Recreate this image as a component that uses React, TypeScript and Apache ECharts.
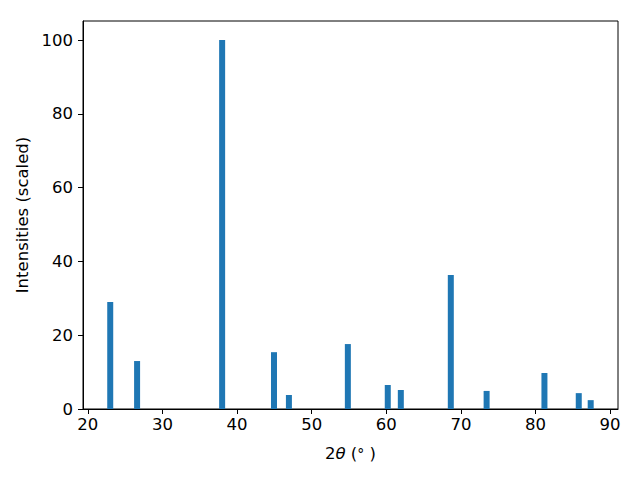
import React, { useEffect, useRef } from "react";
import * as echarts from "echarts";

const twoTheta = [23.0, 26.6, 38.0, 44.95, 46.95, 54.85, 60.2, 61.95, 68.65, 73.45, 81.2, 85.8, 87.4];
const intensities = [29.0, 13.0, 100.0, 15.4, 3.8, 17.6, 6.5, 5.15, 36.3, 4.9, 9.75, 4.3, 2.4];
const xTicks = [20, 30, 40, 50, 60, 70, 80, 90];
const yTicks = [0, 20, 40, 60, 80, 100];

const FONT = "DejaVu Sans";
const FS = 16.5;

export default function App() {
  const ref = useRef<HTMLDivElement>(null);
  useEffect(() => {
    if (!ref.current) return;
    const chart = echarts.init(ref.current, null, { renderer: "svg" });
    chart.setOption({
      animation: false,
      backgroundColor: "#ffffff",
      grid: {
        left: 83,
        right: 22,
        top: 21,
        bottom: 71,
        show: true,
        borderColor: "#000",
        borderWidth: 1,
        backgroundColor: "transparent",
      },
      xAxis: {
        type: "value",
        min: 19.35,
        max: 91.06,
        name: "{a|2}{b|θ}{a| (}{c|°}{a| )}",
        nameLocation: "middle",
        nameGap: 36,
        nameTextStyle: {
          fontFamily: FONT,
          fontSize: FS,
          color: "#000",
          rich: {
            a: { fontFamily: FONT, fontSize: FS, color: "#000" },
            b: { fontFamily: FONT, fontSize: FS, color: "#000", fontStyle: "italic" },
            c: { fontFamily: FONT, fontSize: 14, color: "#000" },
          },
        },
        axisLine: { show: true, onZero: false, lineStyle: { color: "#000", width: 1 } },
        axisTick: { show: true, length: 5, lineStyle: { color: "#000" }, customValues: xTicks },
        axisLabel: {
          customValues: xTicks,
          fontFamily: FONT,
          fontSize: FS,
          color: "#000",
          margin: 7,
        },
        splitLine: { show: false },
      },
      yAxis: {
        type: "value",
        min: 0,
        max: 105.15,
        name: "Intensities (scaled)",
        nameLocation: "middle",
        nameGap: 46,
        nameTextStyle: { fontFamily: FONT, fontSize: FS, color: "#000" },
        axisLine: { show: true, lineStyle: { color: "#000", width: 1 } },
        axisTick: { show: true, length: 5, lineStyle: { color: "#000" }, customValues: yTicks },
        axisLabel: {
          customValues: yTicks,
          fontFamily: FONT,
          fontSize: FS,
          color: "#000",
          margin: 10,
        },
        splitLine: { show: false },
      },
      series: [
        {
          type: "bar",
          data: twoTheta.map((x, i) => [x, intensities[i]]),
          barWidth: 6,
          itemStyle: { color: "#1f77b4" },
        },
      ],
    });
    return () => chart.dispose();
  }, []);
  return <div ref={ref} style={{ width: 640, height: 480, margin: -8 }} />;
}
